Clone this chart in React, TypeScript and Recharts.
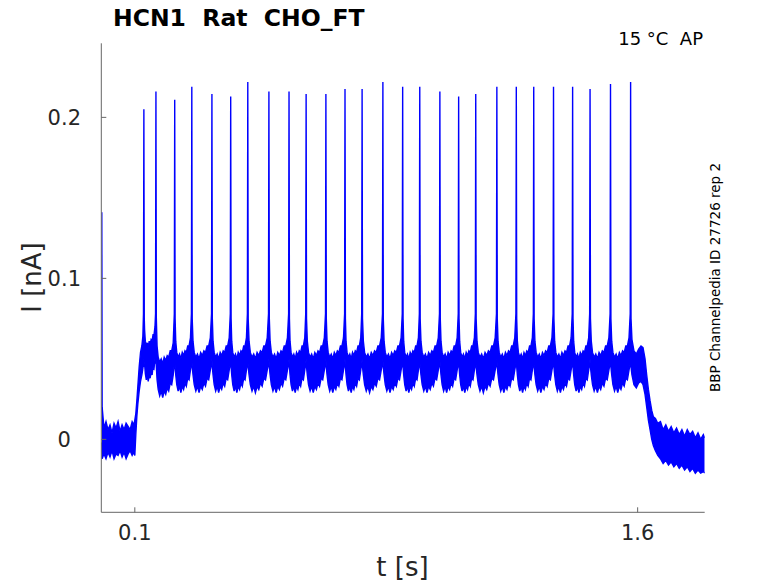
import { Area, ComposedChart, XAxis, YAxis } from 'recharts';

// spike times [s] and peak currents [nA]
const spikeTimes = [
  0.127, 0.163, 0.219, 0.27, 0.33, 0.386, 0.437, 0.5, 0.56, 0.611, 0.67, 0.727, 0.778, 0.84,
  0.899, 0.95, 1.01, 1.066, 1.117, 1.18, 1.238, 1.29, 1.349, 1.406, 1.458, 1.519, 1.579,
];
const spikePeaks = [
  0.205, 0.216, 0.211, 0.219, 0.2145, 0.213, 0.222, 0.216, 0.216, 0.2145, 0.2145, 0.2176, 0.2176,
  0.222, 0.219, 0.219, 0.216, 0.213, 0.2145, 0.219, 0.219, 0.219, 0.219, 0.219, 0.2176, 0.2207,
  0.222,
];

// shape of the noisy band between two spikes (phase = fraction of the interval)
const isiPhase = [0.06, 0.12, 0.2, 0.28, 0.36, 0.44, 0.52, 0.6, 0.68, 0.76, 0.84, 0.92];
const isiLow = [0.04, 0.034, 0.03, 0.033, 0.029, 0.033, 0.031, 0.035, 0.033, 0.038, 0.037, 0.043];
const isiHigh = [0.061, 0.054, 0.051, 0.053, 0.05, 0.054, 0.052, 0.055, 0.054, 0.058, 0.058, 0.063];
// per-interval level offset (first interval sits higher, second lower)
const isiShift = [0.007, -0.003, 0, 0, 0, 0, 0, 0, 0, 0, 0, 0, 0, 0, 0, 0, 0, 0, 0, 0, 0, 0, 0, 0, 0, 0];

// holding current before the step, incl. the capacitive transient at t=0
const preT = [0.0015, 0.0025, 0.008, 0.014, 0.02, 0.026, 0.032, 0.038, 0.044, 0.05, 0.056, 0.062, 0.068, 0.074, 0.08, 0.086, 0.092, 0.097];
const preLow = [-0.002, -0.012, -0.009, -0.012, -0.008, -0.011, -0.007, -0.012, -0.009, -0.01, -0.007, -0.011, -0.008, -0.012, -0.009, -0.007, -0.01, -0.008];
const preHigh = [0.141, 0.02, 0.007, 0.011, 0.006, 0.009, 0.004, 0.01, 0.007, 0.011, 0.005, 0.009, 0.006, 0.01, 0.008, 0.006, 0.011, 0.009];

// activation ramp
const riseT = [0.1, 0.103, 0.106, 0.109, 0.113, 0.117, 0.121, 0.124];
const riseLow = [-0.01, 0.003, 0.014, 0.022, 0.03, 0.036, 0.04, 0.044];
const riseHigh = [0.012, 0.016, 0.024, 0.033, 0.045, 0.054, 0.058, 0.064];

// after the last spike: deactivation and tail
const tailT = [
  1.583, 1.589, 1.596, 1.603, 1.61, 1.616, 1.622, 1.627, 1.632, 1.637, 1.642, 1.647, 1.653, 1.66,
  1.668, 1.676, 1.684, 1.692, 1.7, 1.708, 1.716, 1.724, 1.732, 1.74, 1.748, 1.756, 1.764, 1.772,
  1.78, 1.788, 1.796, 1.8,
];
const tailLow = [
  0.04, 0.034, 0.032, 0.035, 0.036, 0.034, 0.028, 0.02, 0.012, 0.006, 0, -0.004, -0.007, -0.01,
  -0.012, -0.015, -0.013, -0.016, -0.014, -0.017, -0.015, -0.018, -0.016, -0.019, -0.017, -0.02,
  -0.018, -0.021, -0.019, -0.021, -0.02, -0.021,
];
const tailHigh = [
  0.062, 0.055, 0.053, 0.056, 0.058, 0.057, 0.05, 0.04, 0.031, 0.024, 0.018, 0.014, 0.013, 0.01,
  0.011, 0.006, 0.009, 0.005, 0.008, 0.004, 0.007, 0.003, 0.006, 0.002, 0.006, 0.003, 0.005,
  0.001, 0.004, 0, 0.003, 0.001,
];

const xTicks = [0.1, 1.6];
const yTicks = [0, 0.1, 0.2];

type Row = { t: number; range: [number, number] };

function buildTrace(): Row[] {
  const rows: Row[] = [];
  const push = (t: number, lo: number, hi: number) => rows.push({ t, range: [lo, hi] });
  preT.forEach((t, i) => push(t, preLow[i], preHigh[i]));
  riseT.forEach((t, i) => push(t, riseLow[i], riseHigh[i]));
  spikeTimes.forEach((ts, i) => {
    push(ts - 0.0012, 0.047, 0.078);
    push(ts, 0.05, spikePeaks[i]);
    push(ts + 0.0012, 0.045, 0.075);
    if (i < spikeTimes.length - 1) {
      const dt = spikeTimes[i + 1] - ts;
      isiPhase.forEach((p, k) => push(ts + p * dt, isiLow[k] + isiShift[i], isiHigh[k] + isiShift[i]));
    }
  });
  tailT.forEach((t, i) => push(t, tailLow[i], tailHigh[i]));
  return rows;
}

const trace = buildTrace();

const FONT = '"DejaVu Sans", sans-serif';
const TEXT = '#262626';
const AXIS = '#666666';

export default function App() {
  return (
    <div style={{ position: 'absolute', left: 0, top: 0, width: 778, height: 583, background: '#fff', fontFamily: FONT }}>
      <ComposedChart
        width={778}
        height={583}
        data={trace}
        margin={{ top: 43.3, right: 73.3, bottom: 40.7, left: 41.3 }}
      >
        <XAxis
          dataKey="t"
          type="number"
          domain={[0, 1.8]}
          ticks={xTicks}
          allowDataOverflow
          height={30}
          stroke={AXIS}
          tickSize={-5}
          tickMargin={17.7}
          tickFormatter={(v: number) => String(v)}
          tick={{ fontSize: 21, fill: TEXT, fontFamily: FONT }}
        />
        <YAxis
          type="number"
          domain={[-0.0453, 0.246]}
          ticks={yTicks}
          allowDataOverflow
          width={60}
          stroke={AXIS}
          tickSize={-5}
          tickMargin={42}
          tickFormatter={(v: number) => (v === 0 ? '0' : String(v))}
          tick={{ fontSize: 21, fill: TEXT, fontFamily: FONT, textAnchor: 'middle' }}
        />
        <Area
          dataKey="range"
          type="linear"
          stroke="#0000ff"
          strokeWidth={1.4}
          fill="#0000ff"
          fillOpacity={1}
          dot={false}
          activeDot={false}
          isAnimationActive={false}
        />
      </ComposedChart>
      <svg
        width={778}
        height={583}
        style={{ position: 'absolute', left: 0, top: 0, pointerEvents: 'none', fontFamily: FONT }}
      >
        <text x={113} y={26} fontSize={23.5} fontWeight="bold" fill="#000" style={{ whiteSpace: 'pre' }}>
          HCN1  Rat  CHO_FT
        </text>
        <text x={703} y={45} fontSize={18} fill="#000" textAnchor="end" style={{ whiteSpace: 'pre' }}>
          15 °C  AP
        </text>
        <text x={402.5} y={576} fontSize={26} fill={TEXT} textAnchor="middle">
          t [s]
        </text>
        <text x={41} y={277.5} fontSize={26} fill={TEXT} textAnchor="middle" transform="rotate(-90 41 277.5)">
          I [nA]
        </text>
        <text x={720} y={277.5} fontSize={13.5} fill="#000" textAnchor="middle" transform="rotate(-90 720 277.5)">
          BBP Channelpedia ID 27726 rep 2
        </text>
      </svg>
    </div>
  );
}
